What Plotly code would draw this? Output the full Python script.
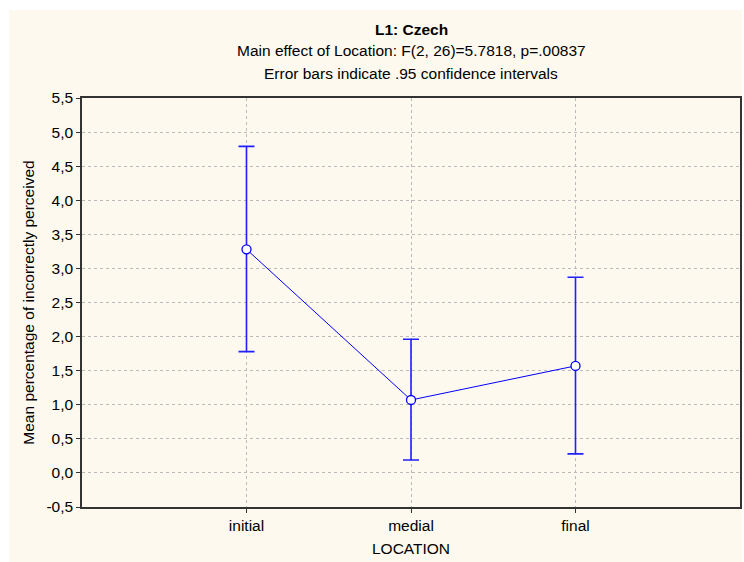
import plotly.graph_objects as go

categories = ["initial", "medial", "final"]
means = [3.28, 1.07, 1.57]
upper = [4.79, 1.96, 2.87]
lower = [1.78, 0.19, 0.28]
y_ticks = [-0.5, 0.0, 0.5, 1.0, 1.5, 2.0, 2.5, 3.0, 3.5, 4.0, 4.5, 5.0, 5.5]
y_tick_text = ["-0,5", "0,0", "0,5", "1,0", "1,5", "2,0", "2,5", "3,0", "3,5", "4,0", "4,5", "5,0", "5,5"]

W, H = 744, 562
L, R, T, B = 82, 2, 98, 55
pw, ph = W - L - R, H - T - B

xpos = list(range(len(categories)))
err_plus = [u - m for u, m in zip(upper, means)]
err_minus = [m - l for m, l in zip(means, lower)]

BLUE = "#0000FF"
FONT = "Liberation Sans, Arial, sans-serif"
FS = 15.5

fig = go.Figure()
fig.add_trace(go.Scatter(
    x=xpos, y=means, mode="lines+markers",
    line=dict(color=BLUE, width=1),
    marker=dict(symbol="circle", size=9, color="white", line=dict(color=BLUE, width=1.3)),
    error_y=dict(type="data", symmetric=False, array=err_plus, arrayminus=err_minus,
                 color="#2020FF", thickness=1.6, width=8),
    showlegend=False,
))

cream = "#FDF9EE"
fig.add_shape(type="rect", xref="paper", yref="paper", layer="below",
              x0=(9 - L) / pw, x1=(W - L) / pw,
              y0=-(B) / ph, y1=1 + (T - 10) / ph,
              fillcolor=cream, line=dict(width=0))

titles = [
    ("<b>L1: Czech</b>", 30),
    ("Main effect of Location: F(2, 26)=5.7818, p=.00837", 51),
    ("Error bars indicate .95 confidence intervals", 73),
]
for txt, ypx in titles:
    fig.add_annotation(text=txt, xref="paper", yref="paper", x=0.5,
                       y=1 + (T - ypx) / ph, xanchor="center", yanchor="middle",
                       showarrow=False, font=dict(family=FONT, size=FS, color="black"))

fig.update_layout(
    width=W, height=H,
    margin=dict(l=L, r=R, t=T, b=B),
    paper_bgcolor="white", plot_bgcolor="white",
    font=dict(family=FONT, size=FS, color="black"),
)
fig.update_xaxes(
    range=[-1, 3], tickvals=xpos, ticktext=categories,
    showline=True, linecolor="#333333", linewidth=1.5, mirror=True,
    ticks="outside", ticklen=4, tickcolor="#333333",
    showgrid=True, gridcolor="#BBBBBB", griddash="dot", gridwidth=1,
    zeroline=False,
    title=dict(text="LOCATION", font=dict(family=FONT, size=FS), standoff=10),
)
fig.update_yaxes(
    range=[-0.5, 5.5], tickvals=y_ticks, ticktext=y_tick_text,
    showline=True, linecolor="#333333", linewidth=1.5, mirror=True,
    ticks="outside", ticklen=4, tickcolor="#333333",
    showgrid=True, gridcolor="#BBBBBB", griddash="dot", gridwidth=1,
    zeroline=False,
    title=dict(text="Mean percentage of incorrectly perceived", font=dict(family=FONT, size=FS), standoff=8),
)

fig.write_html("out.html")
